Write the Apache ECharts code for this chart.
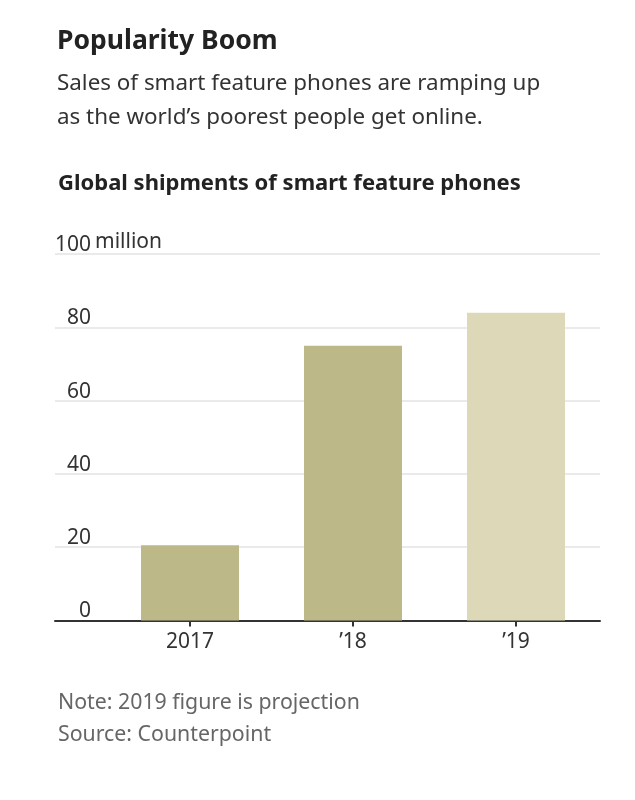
<!DOCTYPE html>
<html><head><meta charset="utf-8">
<script src="https://cdn.jsdelivr.net/npm/echarts@6/dist/echarts.min.js"></script>
<style>html,body{margin:0;padding:0;background:#fff}#c{width:635px;height:800px}</style>
</head><body><div id="c"></div>
<script>
const categories = ['2017', '\u201918', '\u201919'];
const shipments = [20.5, 75, 84];
const projected = [false, false, true];
const yTicks = [0, 20, 40, 60, 80, 100];
const yUnit = 'million';

const FONT = '"Noto Sans", sans-serif';
const chart = echarts.init(document.getElementById('c'));
const gTop = 254, gBottom = 179.5;
chart.setOption({
  animation: false,
  backgroundColor: '#fff',
  title: [
    {text: 'Popularity Boom', left: 52, top: 23, textStyle: {fontFamily: FONT, fontSize: 26.5, fontWeight: 'bold', color: '#222'}},
    {text: 'Sales of smart feature phones are ramping up\nas the world\u2019s poorest people get online.', left: 52, top: 62,
      textStyle: {fontFamily: FONT, fontSize: 22.4, fontWeight: 'normal', color: '#333', lineHeight: 34}},
    {text: 'Global shipments of smart feature phones', left: 53, top: 168, textStyle: {fontFamily: FONT, fontSize: 22, fontWeight: 'bold', color: '#222'}},
    {text: 'Note: 2019 figure is projection\nSource: Counterpoint', left: 53, top: 682,
      textStyle: {fontFamily: FONT, fontSize: 21.3, fontWeight: 'normal', color: '#666', lineHeight: 32}}
  ],
  grid: [
    {left: 55, right: 35, top: gTop, bottom: gBottom},
    {left: 108.5, right: 37.5, top: gTop, bottom: gBottom}
  ],
  xAxis: [
    {type: 'value', gridIndex: 0, min: 0, max: 1, axisLine: {show: true, onZero: false, lineStyle: {color: '#333', width: 2}},
      axisTick: {show: false}, axisLabel: {show: false}, splitLine: {show: false}},
    {type: 'category', gridIndex: 1, data: categories, axisLine: {show: false},
      axisTick: {show: true, alignWithLabel: true, length: 6, lineStyle: {color: '#333', width: 2}},
      axisLabel: {fontFamily: FONT, fontSize: 21, color: '#333', margin: 11}}
  ],
  yAxis: [
    {type: 'value', gridIndex: 0, min: 0, max: 100, interval: 20,
      axisLine: {show: false}, axisTick: {show: false},
      splitLine: {show: true, lineStyle: {color: '#e4e2e2', width: 1.5}},
      axisLabel: {fontFamily: FONT, fontSize: 21, color: '#333', margin: -36, verticalAlign: 'bottom', lineHeight: 18,
        formatter: v => String(v)}},
    {type: 'value', gridIndex: 1, min: 0, max: 100, interval: 20, show: false}
  ],
  graphic: [
    {type: 'text', left: 95, top: 232, style: {text: yUnit, font: '21px ' + FONT, fill: '#333'}}
  ],
  series: [{
    type: 'bar', xAxisIndex: 1, yAxisIndex: 1, barWidth: 98,
    data: shipments.map((v, i) => ({value: v, itemStyle: {color: projected[i] ? '#ddd9b8' : '#bcb888'}}))
  }]
});
</script></body></html>
